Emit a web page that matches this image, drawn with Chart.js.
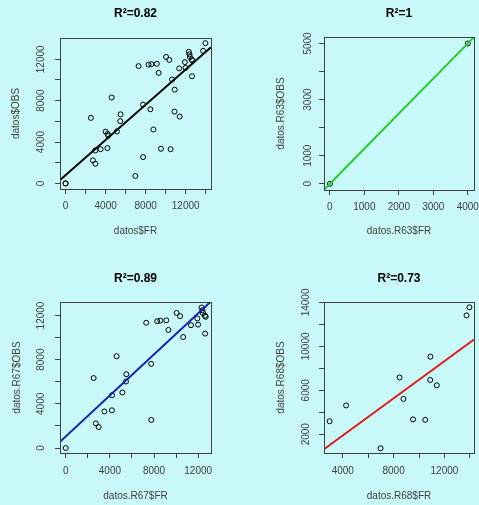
<!DOCTYPE html>
<html><head><meta charset="utf-8">
<script src="https://cdn.jsdelivr.net/npm/chart.js@4.4.1/dist/chart.umd.min.js"></script>
<style>
html,body{margin:0;padding:0;background:#C8F8F8;width:479px;height:505px;overflow:hidden;}
canvas{position:absolute;display:block;}
</style></head><body>
<canvas id="c1" width="240" height="253" style="left:0;top:0;width:240px;height:253px"></canvas>
<canvas id="c2" width="239" height="253" style="left:240px;top:0;width:239px;height:253px"></canvas>
<canvas id="c3" width="240" height="252" style="left:0;top:253px;width:240px;height:252px"></canvas>
<canvas id="c4" width="239" height="252" style="left:240px;top:253px;width:239px;height:252px"></canvas>
<script>
// ---- data ----
const r67FR  = [0, 2530, 2730, 2980, 3500, 4180, 4200, 4610, 5130, 5460, 5490, 7290, 7740, 7750, 8290, 8570, 9110, 9300, 10040, 10360, 10640, 11350, 11920, 11990, 12310, 12380, 12430, 12610, 12680, 12630];
const r67OBS = [0, 6335, 2230, 1900, 3310, 3415, 4780, 8310, 5030, 6020, 6680, 11340, 7620, 2545, 11480, 11530, 11560, 10690, 12230, 11940, 10050, 11120, 11730, 11170, 12720, 12480, 12220, 11980, 11880, 10360];
const r68FR  = [2960, 4260, 6970, 8470, 8775, 9530, 10490, 10900, 10880, 11400, 13740, 13970];
const r68OBS = [3185, 4620, 720, 7170, 5215, 3350, 3310, 9065, 6940, 6460, 12820, 13560];
const r63FR  = [0, 4000];
const r63OBS = [0, 5000];
const datosFR  = [...r67FR, ...r68FR, ...r63FR];
const datosOBS = [...r67OBS, ...r68OBS, ...r63OBS];

// regression lines: [intercept, slope]
const fitDatos = [800, 0.851];
const fitR63   = [0, 1.25];
const fitR67   = [1046, 0.929];
const fitR68   = [-1501, 0.8466];

// tick positions and labelled ticks
const ticks1X = [0, 2000, 4000, 6000, 8000, 10000, 12000, 14000];
const labels1X = [0, 4000, 8000, 12000];
const ticks1Y = [0, 2000, 4000, 6000, 8000, 10000, 12000];
const labels1Y = [0, 4000, 8000, 12000];
const ticks2X = [0, 1000, 2000, 3000, 4000];
const labels2X = [0, 1000, 2000, 3000, 4000];
const ticks2Y = [0, 1000, 2000, 3000, 4000, 5000];
const labels2Y = [0, 1000, 3000, 5000];
const ticks3X = [0, 2000, 4000, 6000, 8000, 10000, 12000];
const labels3X = [0, 4000, 8000, 12000];
const ticks3Y = [0, 2000, 4000, 6000, 8000, 10000, 12000];
const labels3Y = [0, 4000, 8000, 12000];
const ticks4X = [4000, 6000, 8000, 10000, 12000, 14000];
const labels4X = [4000, 8000, 12000];
const ticks4Y = [2000, 4000, 6000, 8000, 10000, 12000, 14000];
const labels4Y = [2000, 6000, 10000, 14000];

const FAM = "'Liberation Sans', Arial, Helvetica, sans-serif";
const TXT = '#404040';
const AXC = '#404040';

const boxPlugin = {
  id: 'rbox',
  afterDraw(chart, args, opts) {
    const ctx = chart.ctx, a = chart.chartArea, s = chart.scales.y;
    ctx.save();
    ctx.strokeStyle = AXC; ctx.lineWidth = 1;
    ctx.strokeRect(Math.round(a.left) + 0.5, Math.round(a.top) + 0.5,
                   Math.round(a.right) - Math.round(a.left), Math.round(a.bottom) - Math.round(a.top));
    ctx.fillStyle = TXT;
    ctx.font = '10px ' + FAM;
    ctx.textAlign = 'center'; ctx.textBaseline = 'middle';
    for (const v of opts.labels) {
      const py = s.getPixelForValue(v);
      ctx.save(); ctx.translate(opts.x, py); ctx.rotate(-Math.PI / 2);
      ctx.fillText(String(v), 0, 0); ctx.restore();
    }
    ctx.restore();
  }
};

function panel(id, c) {
  const pts = c.fr.map((v, i) => ({x: v, y: c.obs[i]}));
  const line = [c.xr[0], c.xr[1]].map(x => ({x: x, y: c.fit[0] + c.fit[1] * x}));
  new Chart(document.getElementById(id), {
    type: 'scatter',
    data: { datasets: [
      { type: 'line', data: line, borderColor: c.color, borderWidth: 2, pointRadius: 0, fill: false, clip: 0, order: 0 },
      { data: pts, pointRadius: 2.5, pointBorderWidth: 1, pointBorderColor: '#000', pointBackgroundColor: 'rgba(0,0,0,0)', order: 1 }
    ]},
    options: {
      responsive: false, animation: false, events: [],
      layout: { padding: { left: 0, top: 0, right: c.L.padR, bottom: 0 } },
      plugins: {
        legend: { display: false }, tooltip: { enabled: false },
        title: { display: true, fullSize: false, text: c.title, color: '#000',
                 font: { family: FAM, size: 12, weight: 'bold' }, padding: { top: c.L.tTop, bottom: c.L.tBot } },
        rbox: { labels: c.yl, x: c.L.yLabX }
      },
      scales: {
        x: {
          type: 'linear', position: 'bottom', min: c.xr[0], max: c.xr[1],
          afterBuildTicks: s => { s.ticks = c.xt.map(v => ({ value: v })); },
          afterFit: s => { s.height = c.L.xH; s.paddingLeft = 0; s.paddingRight = 0; },
          ticks: { autoSkip: false, minRotation: 0, maxRotation: 0, padding: c.L.xPad, color: TXT,
                   font: { family: FAM, size: 10 }, callback: v => c.xl.includes(v) ? String(v) : '' },
          grid: { display: true, drawOnChartArea: false, drawTicks: true, tickLength: 5, color: AXC, tickColor: AXC, lineWidth: 1 },
          border: { display: false },
          title: { display: true, text: c.xTitle, color: TXT, font: { family: FAM, size: 10 }, padding: { top: 0, bottom: c.L.xtB } }
        },
        y: {
          type: 'linear', position: 'left', min: c.yr[0], max: c.yr[1],
          afterBuildTicks: s => { s.ticks = c.yt.map(v => ({ value: v })); },
          afterFit: s => { s.width = c.L.yW; s.paddingTop = 0; s.paddingBottom = 0; },
          ticks: { display: false },
          grid: { display: true, drawOnChartArea: false, drawTicks: true, tickLength: 5, color: AXC, tickColor: AXC, lineWidth: 1 },
          border: { display: false },
          title: { display: true, text: c.yTitle, color: TXT, font: { family: FAM, size: 10 }, padding: { top: c.L.ytT, bottom: 0 } }
        }
      }
    },
    plugins: [boxPlugin]
  });
}

panel('c1', { fr: datosFR, obs: datosOBS, fit: fitDatos, color: '#000000',
  xr: [-560, 14530], yr: [-540, 14060], xt: ticks1X, xl: labels1X, yt: ticks1Y, yl: labels1Y,
  title: 'R²=0.82', xTitle: 'datos$FR', yTitle: 'datos$OBS',
  L: { padR: 29, yW: 60, xH: 64, tTop: 6.8, tBot: 16.8, xPad: 6.7, xtB: 15.3, ytT: 10, yLabX: 41.7 } });

panel('c2', { fr: r63FR, obs: r63OBS, fit: fitR63, color: '#22CC33',
  xr: [-170, 4180], yr: [-220, 5230], xt: ticks2X, xl: labels2X, yt: ticks2Y, yl: labels2Y,
  title: 'R²=1', xTitle: 'datos.R63$FR', yTitle: 'datos.R63$OBS',
  L: { padR: 2, yW: 84, xH: 63, tTop: 6.8, tBot: 15.8, xPad: 6.7, xtB: 15.3, ytT: 35.7, yLabX: 68.3 } });

panel('c3', { fr: r67FR, obs: r67OBS, fit: fitR67, color: '#1020B0',
  xr: [-520, 13160], yr: [-450, 13220], xt: ticks3X, xl: labels3X, yt: ticks3Y, yl: labels3Y,
  title: 'R²=0.89', xTitle: 'datos.R67$FR', yTitle: 'datos.R67$OBS',
  L: { padR: 29, yW: 60, xH: 52, tTop: 18.8, tBot: 15.8, xPad: 7.3, xtB: 2.3, ytT: 11.5, yLabX: 41.7 } });

panel('c4', { fr: r68FR, obs: r68OBS, fit: fitR68, color: '#DD1F1F',
  xr: [2520, 14330], yr: [290, 14040], xt: ticks4X, xl: labels4X, yt: ticks4Y, yl: labels4Y,
  title: 'R²=0.73', xTitle: 'datos.R68$FR', yTitle: 'datos.R68$OBS',
  L: { padR: 3, yW: 84, xH: 52, tTop: 18.8, tBot: 15.8, xPad: 7.5, xtB: 2.3, ytT: 35.7, yLabX: 66.7 } });
</script>
</body></html>
